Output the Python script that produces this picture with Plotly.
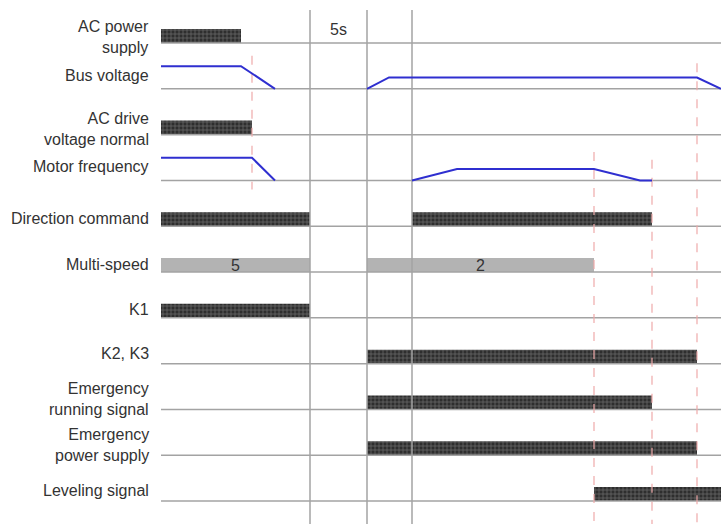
import plotly.graph_objects as go

# signal rows, top to bottom
rows = ["AC power<br>supply", "Bus voltage", "AC drive<br>voltage normal", "Motor frequency",
        "Direction command", "Multi-speed", "K1", "K2, K3", "Emergency<br>running signal",
        "Emergency<br>power supply", "Leveling signal"]

# event times (arbitrary units)
T_END = 560

# on/off periods for the digital signals: (row index, start, end)
digital = [
    (0, 0, 80),
    (2, 0, 91),
    (4, 0, 149), (4, 251, 491),
    (6, 0, 149),
    (7, 206, 536),
    (8, 206, 491),
    (9, 206, 536),
    (10, 433, 560),
]

# multi-speed segments: (start, end, label)
speed_start = [0, 206]
speed_end = [149, 433]
speed_label = ["5", "2"]

# analog levels (1 = normal supply, 0.5 = emergency supply)
bus_t = [[0, 80, 114], [206, 228, 536, 560]]
bus_v = [[1, 1, 0], [0, 0.5, 0.5, 0]]
motor_t = [[0, 91, 114], [251, 296, 433, 479, 491]]
motor_v = [[1, 1, 0], [0, 0.5, 0.5, 0, 0]]

# vertical markers: solid grey (stop, emergency on, run) and dashed red
grey_marks = [149, 206, 251]
red_marks = [(91, 0.28, 3.2), (433, 2.38, 10.5), (491, 2.55, 10.5), (536, 0.44, 10.5)]

ROW_H = 0.306      # bar height in row units
AMP = 0.495        # analog amplitude in row units

fig = go.Figure()

# baselines
bx, by = [], []
for i in range(len(rows)):
    bx += [0, T_END, None]
    by += [-i, -i, None]
fig.add_trace(go.Scatter(x=bx, y=by, mode="lines", line=dict(color="#a3a3a3", width=1.5),
                         hoverinfo="skip", showlegend=False))

# vertical grey lines
vx, vy = [], []
for t in grey_marks:
    vx += [t, t, None]
    vy += [0.72, -10.6, None]
fig.add_trace(go.Scatter(x=vx, y=vy, mode="lines", line=dict(color="#a3a3a3", width=1.5),
                         hoverinfo="skip", showlegend=False))

# red dashed markers
rx, ry = [], []
for t, y0, y1 in red_marks:
    rx += [t, t, None]
    ry += [-y0, -y1, None]
fig.add_trace(go.Scatter(x=rx, y=ry, mode="lines", line=dict(color="#eeaaaa", width=1.2, dash="dash"),
                         hoverinfo="skip", showlegend=False))

# digital bars
fig.add_trace(go.Bar(
    orientation="h",
    y=[-r + ROW_H / 2 for r, s, e in digital],
    base=[s for r, s, e in digital],
    x=[e - s for r, s, e in digital],
    width=ROW_H,
    marker=dict(color="#2e2e2e", line=dict(width=0),
                pattern=dict(shape="+", fgcolor="#a0a0a0", size=4, solidity=0.35)),
    hoverinfo="skip", showlegend=False,
))

# multi-speed bars
fig.add_trace(go.Bar(
    orientation="h",
    y=[-5 + ROW_H / 2] * len(speed_start),
    base=speed_start,
    x=[e - s for s, e in zip(speed_start, speed_end)],
    width=ROW_H,
    text=speed_label,
    textposition="inside",
    insidetextanchor="middle",
    textangle=0,
    textfont=dict(size=16, color="#333333"),
    marker=dict(color="#b3b3b3", line=dict(width=0)),
    hoverinfo="skip", showlegend=False,
))

# analog signals
for row, ts, vs in [(1, bus_t, bus_v), (3, motor_t, motor_v)]:
    for t, v in zip(ts, vs):
        fig.add_trace(go.Scatter(x=t, y=[-row + AMP * a for a in v], mode="lines",
                                 line=dict(color="#2f2fd0", width=2),
                                 hoverinfo="skip", showlegend=False, cliponaxis=False))

# row labels
label_offset = [0.13, 0.3, 0.13, 0.3, 0.18, 0.17, 0.18, 0.22, 0.22, 0.22, 0.24]
for i, name in enumerate(rows):
    fig.add_annotation(x=0, y=-i + label_offset[i], xref="x", yref="y", text=name,
                       showarrow=False, xanchor="right", yanchor="middle", xshift=-10,
                       align="right", font=dict(size=16, color="#333333"))

fig.add_annotation(x=(grey_marks[0] + grey_marks[1]) / 2, y=0.3, xref="x", yref="y", text="5s",
                   showarrow=False, font=dict(size=16, color="#333333"))

fig.update_layout(
    width=721, height=524,
    margin=dict(l=161, r=0, t=0, b=0),
    paper_bgcolor="white", plot_bgcolor="white",
    font=dict(family="Liberation Sans, Arial, sans-serif"),
    barmode="overlay",
    uniformtext=dict(minsize=16, mode="show"),
    xaxis=dict(range=[0, T_END], visible=False, fixedrange=True),
    yaxis=dict(range=[-10.5, 0.939], visible=False, fixedrange=True),
)

fig.write_html("out.html", config={"displayModeBar": False},
               post_script="document.body.style.margin='0';")
